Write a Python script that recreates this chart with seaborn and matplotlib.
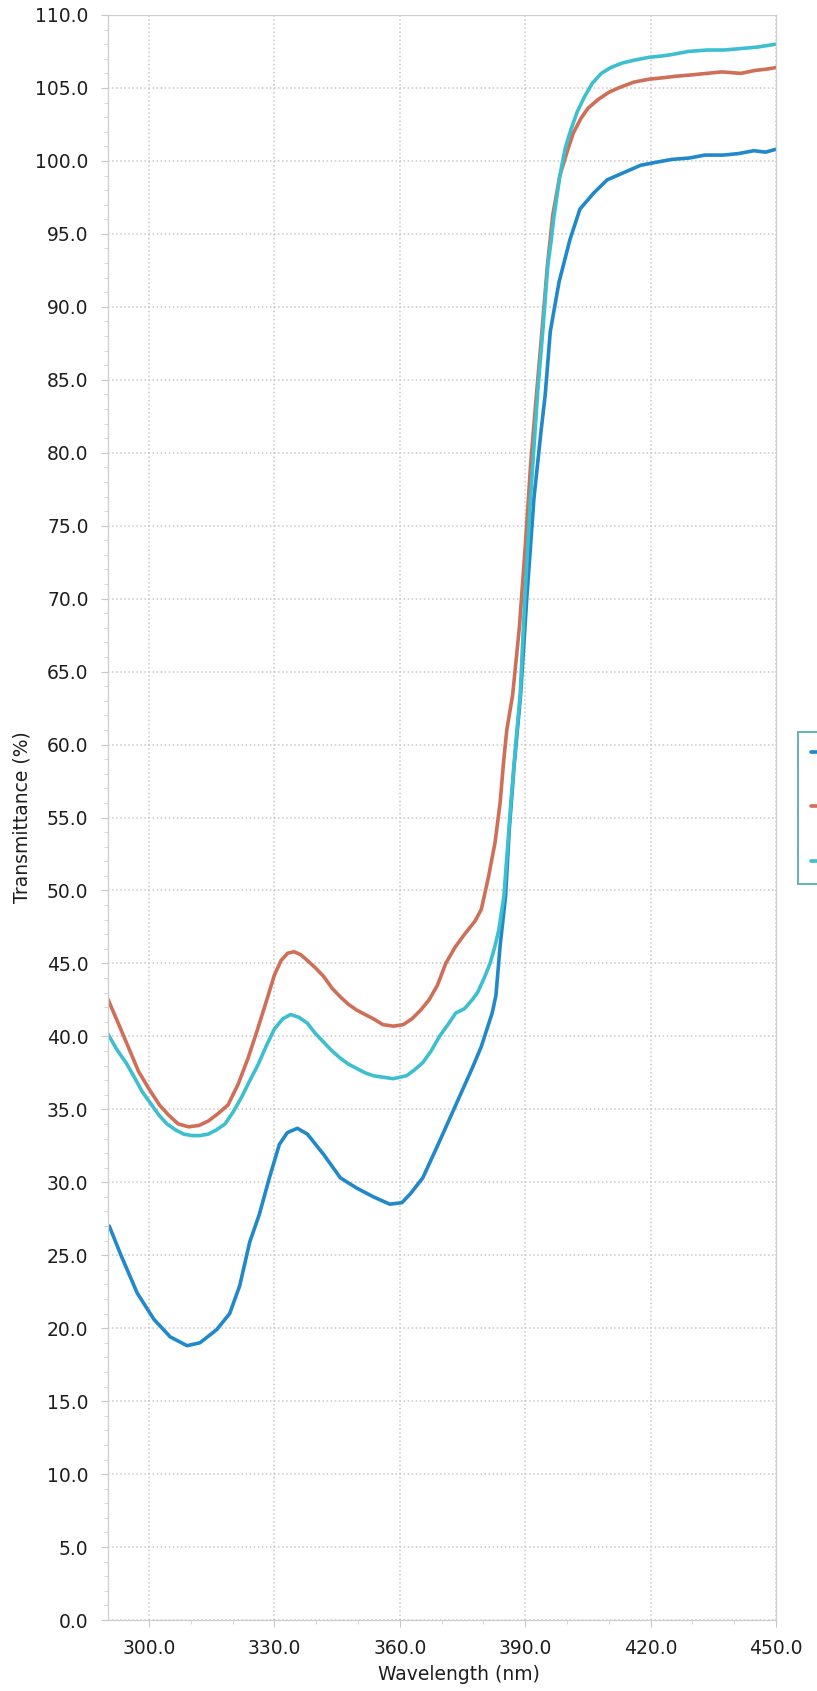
import numpy as np
import pandas as pd
import matplotlib
matplotlib.use("Agg")
import matplotlib.pyplot as plt
import matplotlib.ticker as mticker
import seaborn as sns

# sample 1 (blue)
wl_s1 = [290.5, 293.3, 297.2, 301.2, 305.1, 309.1, 312.2, 316.2, 319.3, 321.7, 324.1, 326.4,
         328.8, 331.2, 333.1, 335.5, 337.9, 341.8, 345.8, 349.7, 353.7, 357.6, 360.5, 362.5,
         365.5, 369.5, 373.4, 377.3, 379.5, 382.1, 383.0, 384.0, 385.3, 386.2, 387.4, 388.9,
         390.4, 392.1, 393.8, 394.8, 396.0, 398.1, 400.7, 403.1, 406.4, 409.6, 413.6, 417.6,
         421.2, 425.0, 429.3, 433.0, 437.4, 441.0, 444.7, 447.5, 450.0]
t_s1 = [27.0, 25.0, 22.4, 20.6, 19.4, 18.8, 19.0, 19.9, 21.0, 22.9, 25.9, 27.8,
        30.3, 32.6, 33.4, 33.7, 33.3, 31.9, 30.3, 29.6, 29.0, 28.5, 28.6, 29.2,
        30.3, 32.8, 35.3, 37.8, 39.3, 41.6, 42.8, 46.2, 49.6, 54.2, 58.7, 63.4,
        70.1, 76.9, 81.5, 84.0, 88.3, 91.7, 94.6, 96.7, 97.8, 98.7, 99.2, 99.7,
        99.9, 100.1, 100.2, 100.4, 100.4, 100.5, 100.7, 100.6, 100.8]

# sample 2 (orange)
wl_s2 = [290.1, 292.5, 295.3, 297.5, 300.0, 302.5, 304.7, 307.0, 309.5, 312.0, 314.2, 316.5,
         318.9, 321.3, 323.7, 326.0, 328.4, 330.0, 331.6, 333.2, 334.7, 336.3, 337.9, 339.8,
         341.8, 343.8, 345.8, 347.7, 349.7, 351.7, 353.7, 356.0, 358.5, 360.8, 362.9, 365.0,
         367.0, 369.0, 371.0, 373.2, 375.5, 378.0, 379.5, 381.2, 382.8, 384.0, 384.8, 385.6,
         387.0, 388.6, 390.0, 391.3, 392.7, 394.0, 395.3, 396.6, 398.3, 400.0, 401.5, 403.3,
         405.0, 407.4, 410.0, 412.3, 416.0, 419.6, 423.0, 426.0, 430.0, 433.5, 437.0, 441.6,
         445.0, 448.0, 450.0]
t_s2 = [42.6, 41.0, 39.1, 37.6, 36.4, 35.3, 34.6, 34.0, 33.8, 33.9, 34.2, 34.7,
        35.3, 36.7, 38.5, 40.5, 42.7, 44.2, 45.2, 45.7, 45.8, 45.6, 45.2, 44.7,
        44.1, 43.3, 42.7, 42.2, 41.8, 41.5, 41.2, 40.8, 40.7, 40.8, 41.2, 41.8,
        42.5, 43.5, 45.0, 46.1, 47.0, 47.9, 48.7, 50.9, 53.3, 56.0, 58.7, 61.0,
        63.4, 68.0, 73.5, 79.2, 84.0, 88.3, 92.8, 96.3, 99.0, 100.6, 101.9, 102.9,
        103.6, 104.2, 104.7, 105.0, 105.4, 105.6, 105.7, 105.8, 105.9, 106.0, 106.1, 106.0,
        106.2, 106.3, 106.4]

# sample 3 (cyan)
wl_s3 = [290.1, 292.3, 294.5, 296.5, 298.4, 300.4, 302.4, 304.3, 306.3, 308.3, 310.3, 312.2,
         314.2, 316.2, 318.2, 320.1, 322.1, 324.0, 326.0, 328.0, 330.0, 332.0, 333.9, 335.9,
         337.9, 339.8, 341.8, 343.8, 345.8, 347.7, 349.7, 351.7, 353.7, 356.0, 358.4, 360.0,
         361.6, 363.5, 365.5, 367.5, 369.5, 371.5, 373.4, 375.5, 377.3, 378.6, 380.2, 381.6,
         382.6, 383.7, 384.9, 385.8, 386.7, 387.7, 388.8, 389.9, 391.3, 393.0, 394.2, 395.4,
         396.2, 396.8, 398.3, 399.6, 401.0, 402.5, 404.2, 406.0, 408.2, 410.5, 413.1, 416.0,
         419.6, 423.0, 425.3, 429.0, 433.5, 437.5, 441.6, 445.5, 450.0]
t_s3 = [40.2, 39.1, 38.2, 37.2, 36.2, 35.4, 34.6, 34.0, 33.6, 33.3, 33.2, 33.2,
        33.3, 33.6, 34.0, 34.8, 35.8, 36.9, 38.0, 39.3, 40.5, 41.2, 41.5, 41.3,
        40.9, 40.2, 39.6, 39.0, 38.5, 38.1, 37.8, 37.5, 37.3, 37.2, 37.1, 37.2,
        37.3, 37.7, 38.2, 39.0, 40.0, 40.8, 41.6, 41.9, 42.5, 43.0, 44.0, 45.0,
        46.0, 47.3, 49.6, 53.0, 56.5, 59.9, 63.4, 70.0, 77.0, 84.2, 88.3, 92.8,
        94.5, 96.0, 99.0, 100.9, 102.2, 103.4, 104.4, 105.3, 106.0, 106.4, 106.7, 106.9,
        107.1, 107.2, 107.3, 107.5, 107.6, 107.6, 107.7, 107.8, 108.0]

sample_names = ["Sample 1", "Sample 2", "Sample 3"]
colors = ["#2188c9", "#cf6f57", "#3dbfcf"]

x_ticks = [300, 330, 360, 390, 420, 450]
y_ticks = list(range(0, 111, 5))

frames = []
for name, wl, t in zip(sample_names, [wl_s1, wl_s2, wl_s3], [t_s1, t_s2, t_s3]):
    frames.append(pd.DataFrame({"wavelength": wl, "transmittance": t, "sample": name}))
df = pd.concat(frames, ignore_index=True)

sns.set_style("white")
plt.rcParams["font.family"] = ["DejaVu Sans"]

fig = plt.figure(figsize=(8.17, 16.91), dpi=100)
ax = fig.add_axes([108 / 817, 1 - 1620 / 1691, 668 / 817, 1605 / 1691])

sns.lineplot(data=df, x="wavelength", y="transmittance", hue="sample",
             palette=dict(zip(sample_names, colors)), linewidth=2.6,
             estimator=None, sort=False, ax=ax, legend=False)

ax.set_xlim(290.2, 450)
ax.set_ylim(0, 110)
ax.set_xticks(x_ticks)
ax.set_yticks(y_ticks)
ax.xaxis.set_major_formatter(mticker.FormatStrFormatter("%.1f"))
ax.yaxis.set_major_formatter(mticker.FormatStrFormatter("%.1f"))
ax.xaxis.set_minor_locator(mticker.MultipleLocator(10))
ax.yaxis.set_minor_locator(mticker.MultipleLocator(1))

ax.grid(True, which="major", linestyle=":", linewidth=1.1, color="#c8c8c8")
ax.tick_params(which="major", direction="out", length=5, width=0.8, color="#c8c8c8",
               labelsize=13.5, labelcolor="#1e1e1e", pad=9)
ax.tick_params(which="minor", direction="out", length=3, width=0.6, color="#d0d0d0")
ax.tick_params(axis="x", which="both", bottom=True)
ax.tick_params(axis="y", which="both", left=True)
for side in ["left", "right", "top", "bottom"]:
    ax.spines[side].set_color("#cfcfcf")
    ax.spines[side].set_linewidth(0.9)

ax.set_xlabel("Wavelength (nm)", fontsize=13.5, color="#1e1e1e")
ax.set_ylabel("Transmittance (%)", fontsize=13.5, color="#1e1e1e")
ax.xaxis.set_label_coords(0.525, -0.028)
ax.yaxis.set_label_coords(-0.114, 0.5)

# legend box sits past the right edge; its labels are cut off in the scan
leg = fig.legend(ax.get_lines()[:3], [" ", " ", " "], loc="upper left",
                 bbox_to_anchor=(798 / 817, 1 - 732 / 1691), frameon=True,
                 fancybox=False, fontsize=13, labelspacing=2.0, borderpad=0.7,
                 handlelength=1.5, edgecolor="#4e9ea3", borderaxespad=0)
leg.get_frame().set_linewidth(1.5)

fig.savefig("out.png", dpi=100)
